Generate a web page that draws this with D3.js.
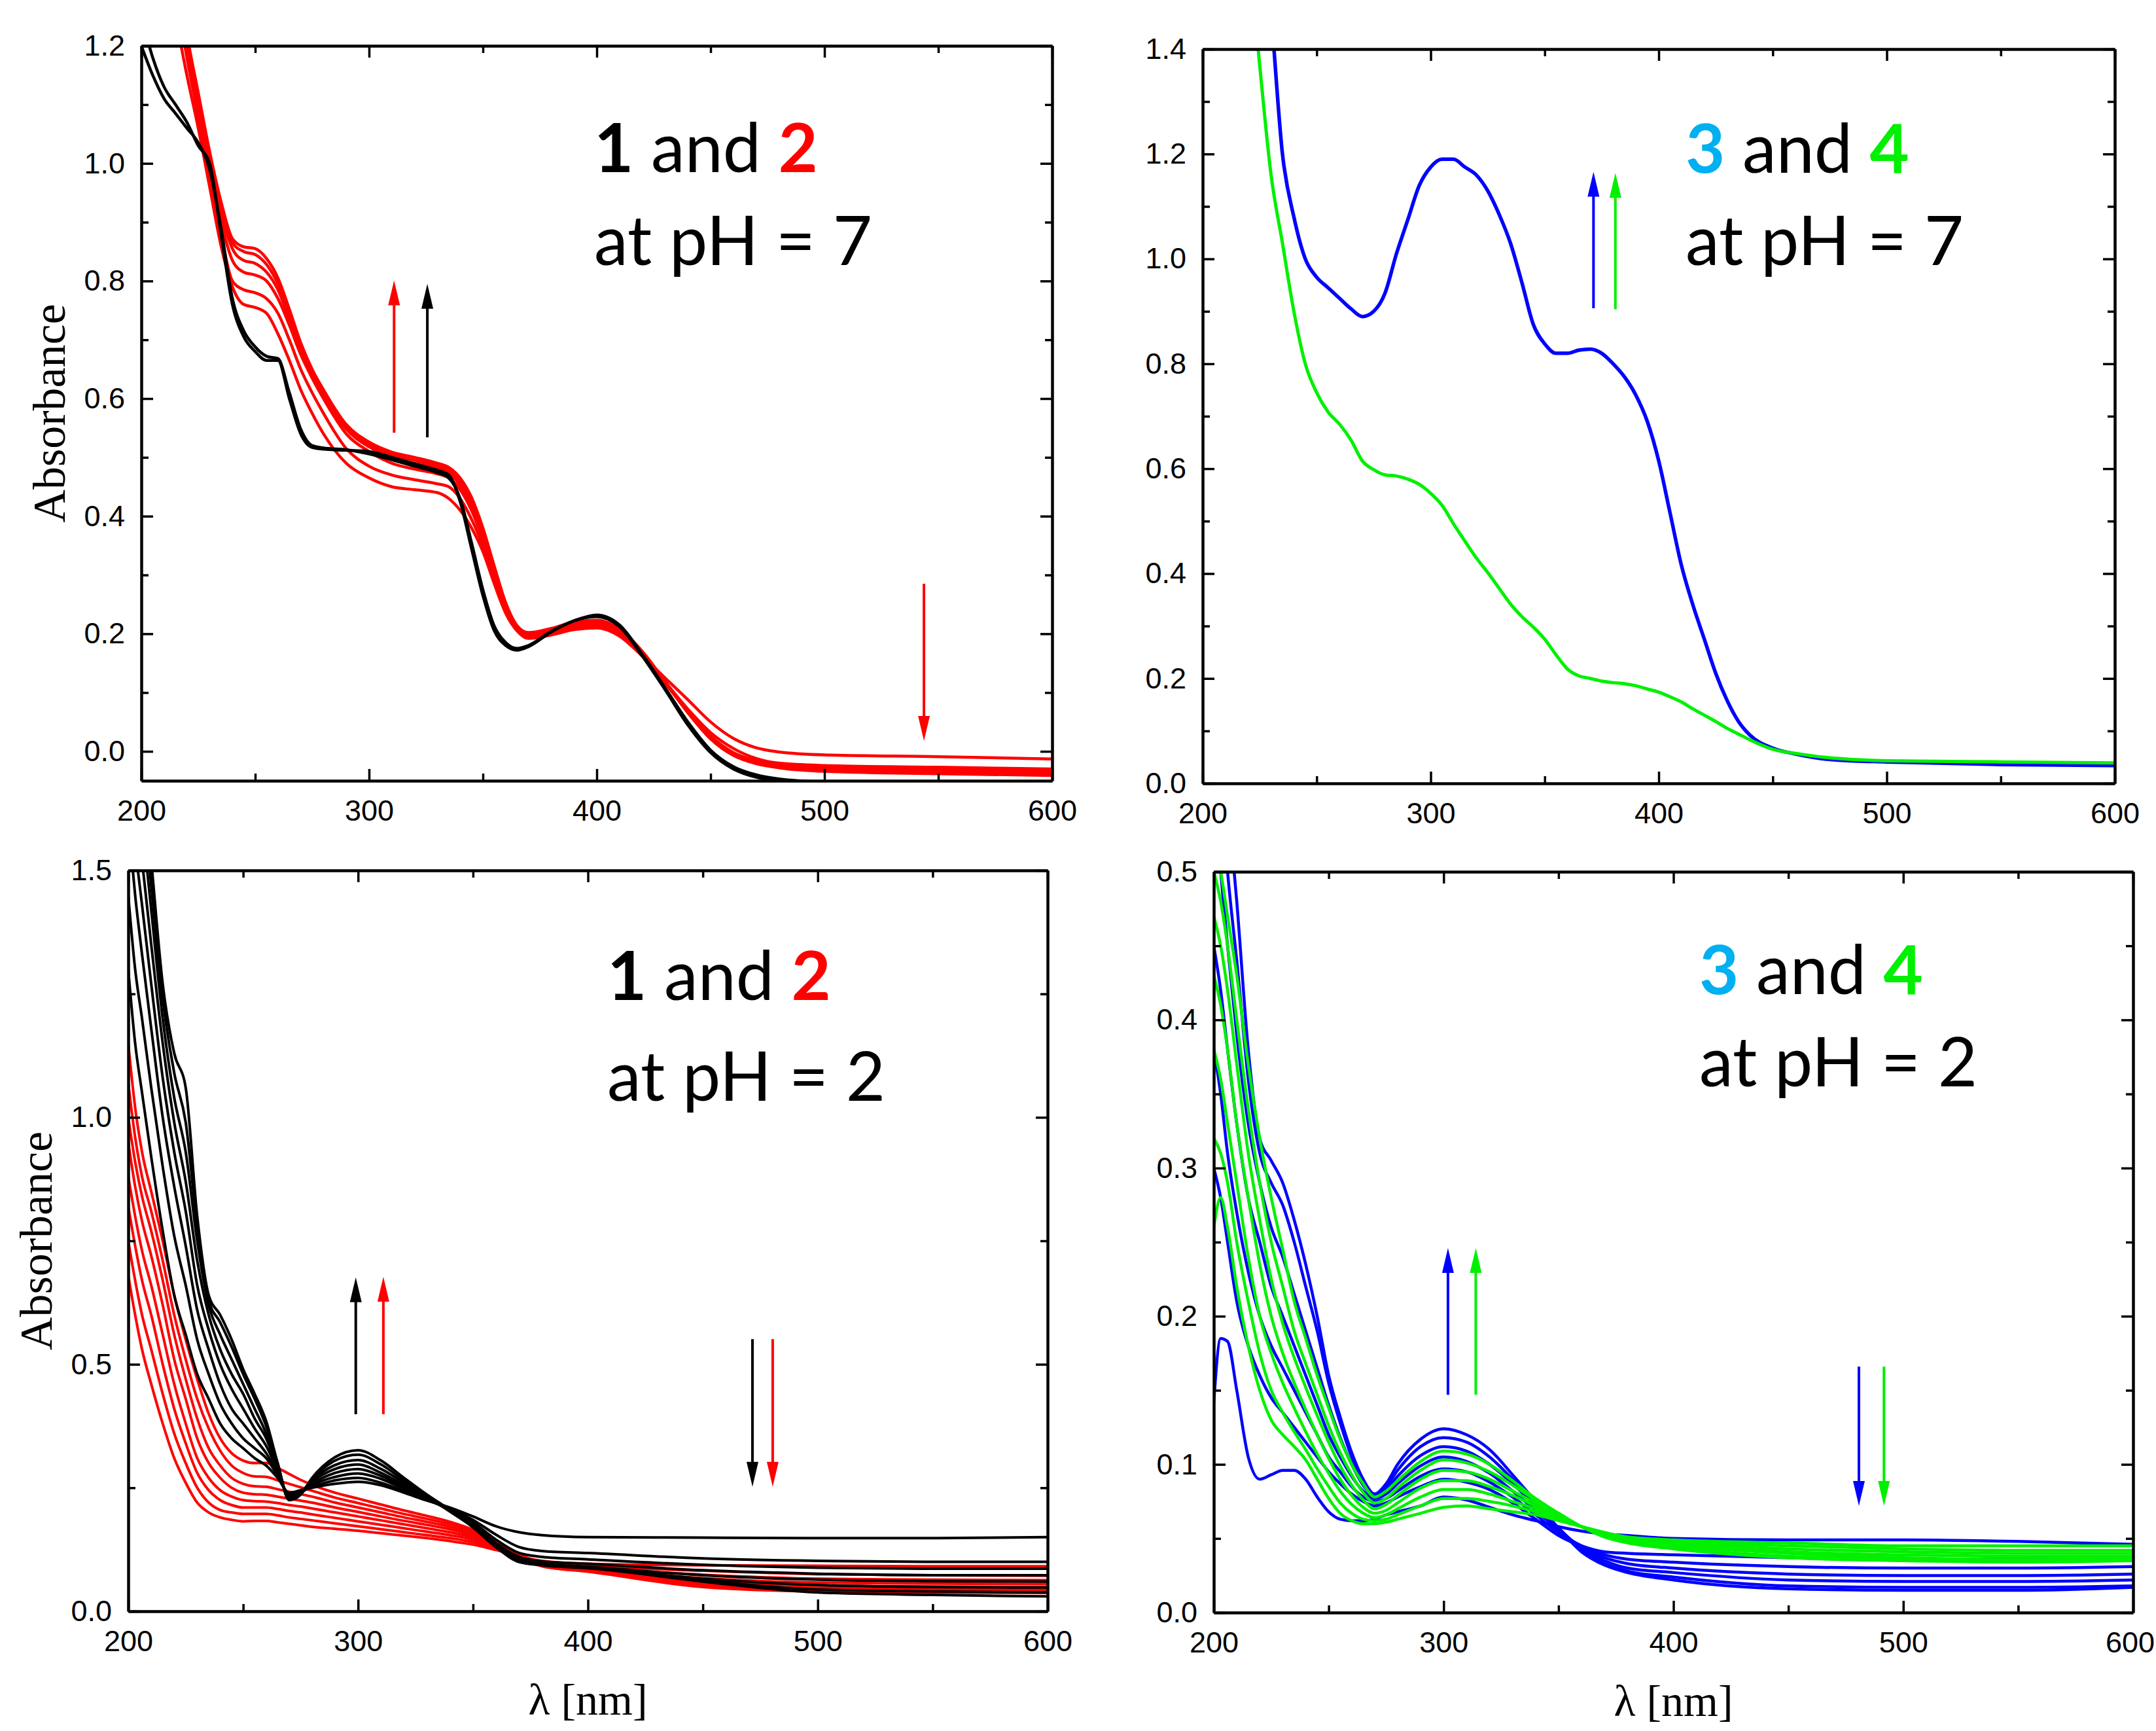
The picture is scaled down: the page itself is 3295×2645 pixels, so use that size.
<!DOCTYPE html>
<html>
<head>
<meta charset="utf-8">
<script src="https://cdn.jsdelivr.net/npm/d3@7"></script>
<style>
  body { margin: 0; background: #fff; }
</style>
</head>
<body>
<script>
// ---------- data ----------
const xMajor = [200, 300, 400, 500, 600];
const xMinor = [250, 350, 450, 550];

// top-left: 1 and 2 at pH = 7
const wlNeutral12 = [200,205,210,215,220,225,230,235,240,245,250,255,260,265,270,275,280,290,300,310,320,330,335,340,345,350,355,360,365,370,380,390,400,410,420,430,440,450,460,470,480,500,550,600];
const redNeutral = [
  [1.5,1.45,1.35,1.25,1.15,1.06,0.96,0.86,0.79,0.76,0.755,0.745,0.71,0.665,0.615,0.575,0.54,0.49,0.465,0.45,0.445,0.44,0.43,0.41,0.38,0.34,0.285,0.235,0.205,0.192,0.198,0.207,0.21,0.196,0.162,0.125,0.088,0.05,0.022,0.006,-0.001,-0.006,-0.009,-0.013],
  [1.55,1.5,1.4,1.3,1.18,1.08,0.98,0.88,0.8,0.785,0.78,0.77,0.745,0.7,0.65,0.61,0.575,0.515,0.485,0.47,0.462,0.455,0.45,0.43,0.395,0.35,0.295,0.245,0.21,0.195,0.2,0.21,0.212,0.2,0.163,0.118,0.072,0.032,0.005,-0.012,-0.02,-0.024,-0.027,-0.03],
  [1.6,1.55,1.45,1.32,1.19,1.09,0.99,0.9,0.835,0.815,0.81,0.8,0.77,0.725,0.675,0.635,0.6,0.54,0.51,0.49,0.48,0.472,0.465,0.445,0.41,0.36,0.3,0.245,0.208,0.196,0.204,0.214,0.216,0.202,0.164,0.116,0.068,0.026,-0.002,-0.016,-0.023,-0.027,-0.031,-0.034],
  [1.6,1.55,1.47,1.33,1.2,1.1,1.0,0.915,0.855,0.835,0.83,0.815,0.785,0.735,0.685,0.64,0.605,0.548,0.518,0.5,0.49,0.482,0.474,0.452,0.418,0.367,0.305,0.248,0.21,0.198,0.206,0.217,0.219,0.204,0.166,0.117,0.067,0.024,-0.004,-0.018,-0.025,-0.03,-0.034,-0.037],
  [1.6,1.55,1.47,1.34,1.21,1.11,1.01,0.925,0.865,0.85,0.845,0.828,0.795,0.745,0.69,0.645,0.61,0.552,0.522,0.505,0.495,0.486,0.478,0.458,0.425,0.373,0.31,0.25,0.212,0.2,0.207,0.219,0.221,0.206,0.168,0.118,0.066,0.022,-0.006,-0.02,-0.027,-0.032,-0.036,-0.039],
  [1.6,1.56,1.48,1.35,1.22,1.12,1.02,0.935,0.872,0.858,0.855,0.838,0.805,0.752,0.695,0.65,0.615,0.556,0.526,0.509,0.5,0.49,0.483,0.465,0.432,0.38,0.315,0.253,0.214,0.202,0.209,0.22,0.223,0.208,0.17,0.119,0.066,0.021,-0.007,-0.021,-0.028,-0.034,-0.038,-0.041]
];
const blackNeutral = [
  [1.25,1.18,1.13,1.10,1.07,1.03,1.00,0.88,0.76,0.705,0.68,0.665,0.665,0.60,0.54,0.517,0.514,0.512,0.51,0.50,0.489,0.478,0.47,0.425,0.345,0.265,0.205,0.18,0.172,0.178,0.203,0.222,0.229,0.212,0.162,0.105,0.045,-0.002,-0.03,-0.044,-0.05,-0.055,-0.058,-0.06],
  [1.2,1.15,1.11,1.085,1.06,1.035,0.99,0.89,0.77,0.715,0.688,0.672,0.668,0.61,0.548,0.52,0.516,0.513,0.506,0.496,0.485,0.474,0.465,0.43,0.355,0.275,0.213,0.185,0.175,0.18,0.204,0.222,0.232,0.215,0.165,0.108,0.05,0.002,-0.026,-0.04,-0.047,-0.052,-0.055,-0.057]
];

// top-right: 3 and 4 at pH = 7
const wlNeutral34 = [220,225,230,235,240,245,250,255,260,265,270,275,280,285,290,295,300,305,310,315,320,325,330,335,340,345,350,355,360,365,370,375,380,385,390,395,400,405,410,415,420,425,430,435,440,450,460,470,480,500,550,600];
const blueNeutral = [1.9,1.7,1.47,1.2,1.08,1.0,0.965,0.945,0.925,0.905,0.89,0.9,0.935,1.01,1.075,1.14,1.175,1.19,1.19,1.175,1.16,1.13,1.085,1.03,0.955,0.875,0.838,0.82,0.82,0.826,0.828,0.82,0.8,0.775,0.74,0.69,0.615,0.515,0.415,0.34,0.275,0.21,0.158,0.118,0.092,0.067,0.056,0.048,0.044,0.041,0.036,0.034];
const greenNeutral = [1.6,1.37,1.16,1.03,0.9,0.8,0.745,0.708,0.685,0.655,0.615,0.598,0.588,0.586,0.58,0.57,0.553,0.53,0.495,0.462,0.43,0.402,0.372,0.342,0.318,0.298,0.275,0.245,0.218,0.205,0.2,0.195,0.192,0.19,0.186,0.18,0.174,0.165,0.155,0.142,0.13,0.118,0.105,0.094,0.083,0.065,0.057,0.051,0.047,0.043,0.041,0.039];

// bottom panels: pH = 2, one row per wavelength, one column per spectrum
const wlAcid = [200,203,206,210,215,220,225,230,235,240,245,250,255,260,265,270,275,280,290,300,310,320,330,340,350,360,370,380,400,450,500,550,600];
const blackAcid = [
  [1.3,1.45,1.6,1.7,1.8,1.85,1.9,1.95],
  [1.15,1.3,1.45,1.55,1.65,1.72,1.78,1.85],
  [1.05,1.2,1.33,1.43,1.52,1.6,1.66,1.72],
  [0.92,1.06,1.18,1.27,1.35,1.42,1.47,1.52],
  [0.77,0.9,1.0,1.08,1.15,1.2,1.24,1.27],
  [0.64,0.76,0.86,0.93,0.99,1.04,1.09,1.13],
  [0.56,0.66,0.74,0.81,0.87,0.93,0.99,1.06],
  [0.48,0.55,0.61,0.66,0.71,0.75,0.78,0.8],
  [0.43,0.48,0.53,0.57,0.6,0.62,0.63,0.64],
  [0.38,0.42,0.46,0.5,0.53,0.56,0.585,0.6],
  [0.35,0.38,0.41,0.45,0.48,0.51,0.535,0.55],
  [0.33,0.35,0.38,0.41,0.44,0.46,0.48,0.49],
  [0.31,0.33,0.35,0.37,0.39,0.41,0.43,0.44],
  [0.295,0.31,0.32,0.335,0.35,0.36,0.375,0.385],
  [0.27,0.275,0.28,0.285,0.29,0.295,0.3,0.3],
  [0.24,0.238,0.235,0.232,0.23,0.228,0.226,0.225],
  [0.245,0.243,0.24,0.24,0.24,0.24,0.238,0.236],
  [0.25,0.252,0.255,0.258,0.262,0.265,0.268,0.27],
  [0.258,0.265,0.272,0.28,0.288,0.296,0.305,0.312],
  [0.262,0.27,0.279,0.288,0.297,0.306,0.317,0.326],
  [0.255,0.26,0.268,0.274,0.28,0.288,0.297,0.305],
  [0.24,0.243,0.247,0.251,0.255,0.26,0.265,0.27],
  [0.224,0.225,0.226,0.228,0.23,0.232,0.234,0.236],
  [0.21,0.208,0.206,0.204,0.203,0.202,0.202,0.205],
  [0.192,0.185,0.18,0.176,0.173,0.171,0.17,0.17],
  [0.172,0.155,0.145,0.138,0.133,0.13,0.13,0.13],
  [0.16,0.13,0.118,0.11,0.105,0.102,0.1,0.1],
  [0.154,0.122,0.11,0.101,0.096,0.094,0.093,0.094],
  [0.15,0.118,0.105,0.096,0.09,0.088,0.087,0.088],
  [0.149,0.107,0.094,0.083,0.073,0.066,0.062,0.06],
  [0.148,0.102,0.088,0.076,0.064,0.053,0.044,0.038],
  [0.148,0.1,0.086,0.073,0.061,0.049,0.04,0.033],
  [0.15,0.1,0.086,0.073,0.06,0.048,0.038,0.03]
];
const redAcid = [
  [0.68,0.75,0.82,0.88,0.95,1.0,1.07,1.15],
  [0.6,0.67,0.74,0.8,0.86,0.91,0.96,1.02],
  [0.53,0.6,0.67,0.73,0.79,0.84,0.88,0.93],
  [0.46,0.53,0.6,0.66,0.72,0.77,0.81,0.85],
  [0.38,0.44,0.5,0.56,0.62,0.67,0.71,0.75],
  [0.31,0.36,0.41,0.46,0.51,0.56,0.6,0.64],
  [0.26,0.3,0.34,0.38,0.43,0.47,0.51,0.55],
  [0.22,0.25,0.28,0.31,0.35,0.39,0.43,0.47],
  [0.2,0.22,0.245,0.27,0.3,0.33,0.37,0.4],
  [0.19,0.205,0.225,0.245,0.27,0.295,0.325,0.35],
  [0.185,0.2,0.215,0.232,0.25,0.27,0.295,0.32],
  [0.182,0.197,0.21,0.225,0.24,0.258,0.28,0.305],
  [0.183,0.197,0.21,0.223,0.237,0.253,0.273,0.3],
  [0.183,0.197,0.21,0.222,0.236,0.252,0.272,0.3],
  [0.18,0.194,0.207,0.219,0.232,0.247,0.265,0.29],
  [0.177,0.19,0.203,0.215,0.228,0.242,0.258,0.278],
  [0.174,0.187,0.2,0.212,0.224,0.237,0.251,0.266],
  [0.171,0.184,0.196,0.208,0.22,0.232,0.244,0.256],
  [0.167,0.178,0.189,0.2,0.21,0.22,0.23,0.24],
  [0.163,0.172,0.182,0.192,0.201,0.21,0.219,0.228],
  [0.158,0.166,0.175,0.184,0.192,0.2,0.208,0.216],
  [0.153,0.16,0.168,0.176,0.183,0.19,0.197,0.204],
  [0.148,0.154,0.161,0.168,0.175,0.181,0.187,0.193],
  [0.142,0.148,0.154,0.16,0.166,0.171,0.176,0.181],
  [0.135,0.14,0.145,0.15,0.154,0.158,0.162,0.165],
  [0.124,0.127,0.13,0.132,0.134,0.136,0.138,0.14],
  [0.112,0.113,0.113,0.113,0.112,0.111,0.11,0.11],
  [0.102,0.1,0.098,0.096,0.094,0.093,0.092,0.091],
  [0.096,0.092,0.088,0.085,0.083,0.082,0.081,0.08],
  [0.093,0.082,0.074,0.067,0.061,0.056,0.052,0.049],
  [0.092,0.075,0.066,0.058,0.052,0.047,0.043,0.04],
  [0.091,0.073,0.064,0.056,0.05,0.045,0.041,0.038],
  [0.091,0.072,0.063,0.055,0.049,0.044,0.04,0.037]
];
const blueAcid = [
  [0.142,0.3,0.38,0.45,0.55,0.6,0.65],
  [0.185,0.28,0.35,0.42,0.5,0.56,0.6],
  [0.183,0.25,0.31,0.38,0.45,0.5,0.55],
  [0.15,0.21,0.27,0.33,0.39,0.44,0.48],
  [0.105,0.18,0.23,0.28,0.33,0.36,0.38],
  [0.09,0.16,0.2,0.25,0.29,0.31,0.32],
  [0.093,0.145,0.18,0.22,0.26,0.29,0.305],
  [0.096,0.135,0.165,0.2,0.24,0.275,0.29],
  [0.096,0.125,0.15,0.18,0.215,0.25,0.265],
  [0.09,0.115,0.135,0.16,0.19,0.22,0.235],
  [0.078,0.105,0.12,0.14,0.165,0.19,0.2],
  [0.068,0.095,0.105,0.12,0.14,0.155,0.16],
  [0.063,0.087,0.095,0.105,0.118,0.128,0.132],
  [0.062,0.08,0.085,0.092,0.1,0.105,0.108],
  [0.062,0.075,0.078,0.082,0.086,0.088,0.09],
  [0.063,0.072,0.075,0.077,0.079,0.08,0.08],
  [0.066,0.074,0.077,0.08,0.083,0.085,0.087],
  [0.068,0.078,0.082,0.087,0.092,0.096,0.1],
  [0.072,0.085,0.092,0.099,0.106,0.112,0.117],
  [0.078,0.09,0.097,0.105,0.112,0.118,0.124],
  [0.076,0.088,0.095,0.102,0.109,0.115,0.12],
  [0.071,0.083,0.088,0.094,0.1,0.105,0.11],
  [0.066,0.074,0.078,0.082,0.087,0.09,0.093],
  [0.062,0.063,0.066,0.069,0.072,0.074,0.075],
  [0.058,0.052,0.054,0.056,0.057,0.057,0.057],
  [0.055,0.045,0.045,0.044,0.043,0.042,0.041],
  [0.053,0.041,0.039,0.037,0.035,0.033,0.032],
  [0.052,0.04,0.036,0.033,0.03,0.028,0.027],
  [0.05,0.039,0.034,0.03,0.027,0.024,0.022],
  [0.049,0.037,0.031,0.026,0.022,0.018,0.016],
  [0.049,0.036,0.03,0.025,0.021,0.017,0.015],
  [0.048,0.036,0.03,0.025,0.021,0.017,0.015],
  [0.046,0.037,0.031,0.026,0.022,0.018,0.017]
];
const greenAcid = [
  [0.26,0.32,0.38,0.43,0.47,0.5,0.52],
  [0.28,0.31,0.36,0.41,0.45,0.48,0.5],
  [0.26,0.29,0.33,0.38,0.42,0.45,0.47],
  [0.22,0.25,0.29,0.33,0.37,0.4,0.43],
  [0.18,0.21,0.24,0.28,0.31,0.34,0.37],
  [0.15,0.175,0.2,0.235,0.265,0.29,0.32],
  [0.13,0.15,0.175,0.2,0.225,0.25,0.28],
  [0.12,0.135,0.155,0.175,0.195,0.22,0.245],
  [0.112,0.122,0.138,0.155,0.172,0.19,0.21],
  [0.103,0.11,0.122,0.137,0.152,0.168,0.185],
  [0.09,0.097,0.107,0.12,0.133,0.147,0.16],
  [0.077,0.085,0.094,0.104,0.115,0.126,0.138],
  [0.067,0.074,0.082,0.09,0.099,0.108,0.117],
  [0.062,0.067,0.073,0.079,0.086,0.093,0.1],
  [0.06,0.063,0.067,0.071,0.076,0.081,0.087],
  [0.06,0.062,0.064,0.067,0.07,0.074,0.078],
  [0.061,0.063,0.066,0.069,0.073,0.077,0.082],
  [0.063,0.066,0.07,0.074,0.079,0.084,0.089],
  [0.067,0.072,0.078,0.084,0.09,0.096,0.102],
  [0.071,0.077,0.083,0.089,0.096,0.103,0.109],
  [0.072,0.077,0.083,0.089,0.095,0.101,0.107],
  [0.07,0.075,0.08,0.085,0.09,0.095,0.1],
  [0.068,0.072,0.075,0.079,0.082,0.086,0.089],
  [0.066,0.068,0.07,0.072,0.074,0.076,0.077],
  [0.062,0.063,0.064,0.065,0.066,0.067,0.067],
  [0.058,0.058,0.058,0.058,0.058,0.058,0.058],
  [0.054,0.054,0.053,0.053,0.052,0.052,0.051],
  [0.051,0.05,0.05,0.049,0.048,0.048,0.047],
  [0.049,0.048,0.047,0.046,0.045,0.044,0.043],
  [0.047,0.045,0.043,0.041,0.04,0.038,0.037],
  [0.045,0.043,0.041,0.039,0.037,0.036,0.035],
  [0.045,0.042,0.04,0.038,0.036,0.035,0.034],
  [0.045,0.042,0.04,0.038,0.037,0.036,0.035]
];

// arrows: [wavelength, tail value, tip value]
const arrowsNeutral12 = [[311, 0.542, 0.801], [325.6, 0.534, 0.795], [543.7, 0.285, 0.018]];
const arrowsNeutral34 = [[371.4, 0.906, 1.166], [381, 0.904, 1.164]];
const arrowsAcid12 = [[299, 0.399, 0.676], [311, 0.399, 0.677], [471.6, 0.551, 0.252], [480.4, 0.551, 0.252]];
const arrowsAcid34 = [[301.9, 0.147, 0.246], [314, 0.147, 0.246], [480.7, 0.166, 0.072], [491.6, 0.166, 0.072]];

// ---------- drawing ----------
const RED = "#ff0000", BLACK = "#000000", BLUE = "#0000ff", GREEN = "#00f000", SKY = "#00b0f0";
const tickFont = "'Liberation Sans', Arial, sans-serif";
const serifFont = "'Liberation Serif', 'Times New Roman', serif";
const noteFont = "Lato, 'Open Sans', sans-serif";
const pageWidth = 3295;

const svg = d3.select("body").append("svg")
  .attr("width", pageWidth)
  .attr("height", 2645)
  .style("display", "block")
  .style("background", "#fff");

function columns(rows) {
  return rows[0].map((_, k) => rows.map(r => r[k]));
}

function drawPanel(p) {
  const x = d3.scaleLinear().domain([200, 600]).range([p.left, p.right]);
  const y = d3.scaleLinear().domain(p.yDomain).range([p.bottom, p.top]);

  svg.append("clipPath").attr("id", "clip-" + p.id)
    .append("rect")
    .attr("x", p.left).attr("y", p.top)
    .attr("width", p.right - p.left).attr("height", p.bottom - p.top);

  const line = d3.line()
    .x(d => x(d[0]))
    .y(d => y(d[1]))
    .curve(d3.curveMonotoneX);

  const curves = svg.append("g").attr("clip-path", "url(#clip-" + p.id + ")");
  p.groups.forEach(grp => {
    curves.selectAll(null)
      .data(grp.series)
      .enter()
      .append("path")
      .attr("d", s => line(grp.wl.map((w, i) => [w, s[i]])))
      .attr("fill", "none")
      .attr("stroke", grp.color)
      .attr("stroke-width", grp.width)
      .attr("stroke-linejoin", "round");
  });

  // arrows
  const arrows = svg.append("g");
  p.arrows.forEach((a, i) => {
    const ax = x(a[0]), y0 = y(a[1]), y1 = y(a[2]);
    const dir = y1 < y0 ? 1 : -1;
    const headLen = 38, headHalf = 9;
    arrows.append("line")
      .attr("x1", ax).attr("x2", ax)
      .attr("y1", y0).attr("y2", y1 + dir * (headLen - 4))
      .attr("stroke", p.arrowColors[i])
      .attr("stroke-width", 4);
    arrows.append("path")
      .attr("d", `M${ax},${y1} L${ax - headHalf},${y1 + dir * headLen} L${ax + headHalf},${y1 + dir * headLen} Z`)
      .attr("fill", p.arrowColors[i]);
  });

  // frame with inward ticks on all four sides
  const axes = svg.append("g");
  const fmtY = d3.format(".1f");
  const add = (axis, tx, ty) => axes.append("g").attr("transform", `translate(${tx},${ty})`).call(axis);

  const bottomAxis = add(d3.axisBottom(x).tickValues(xMajor).tickSizeInner(-18).tickSizeOuter(0).tickPadding(29).tickFormat(d3.format("d")), 0, p.bottom);
  add(d3.axisBottom(x).tickValues(xMinor).tickSizeInner(-11).tickSizeOuter(0).tickFormat(""), 0, p.bottom);
  add(d3.axisTop(x).tickValues(xMajor).tickSizeInner(-18).tickSizeOuter(0).tickFormat(""), 0, p.top);
  add(d3.axisTop(x).tickValues(xMinor).tickSizeInner(-11).tickSizeOuter(0).tickFormat(""), 0, p.top);
  add(d3.axisLeft(y).tickValues(p.yMajor).tickSizeInner(-18).tickSizeOuter(0).tickPadding(25).tickFormat(fmtY), p.left, 0);
  add(d3.axisLeft(y).tickValues(p.yMinor).tickSizeInner(-11).tickSizeOuter(0).tickFormat(""), p.left, 0);
  add(d3.axisRight(y).tickValues(p.yMajor).tickSizeInner(-18).tickSizeOuter(0).tickFormat(""), p.right, 0);
  add(d3.axisRight(y).tickValues(p.yMinor).tickSizeInner(-11).tickSizeOuter(0).tickFormat(""), p.right, 0);

  axes.selectAll(".domain").attr("stroke", "#000").attr("stroke-width", 4);
  axes.selectAll(".tick line").attr("stroke", "#000").attr("stroke-width", 3.5);
  axes.selectAll(".tick text")
    .attr("font-family", tickFont)
    .attr("font-size", 45)
    .attr("fill", "#000");

  // keep the last x label inside the page when the frame reaches the edge
  bottomAxis.selectAll(".tick text").each(function () {
    const b = this.getBBox();
    const gx = this.parentNode.transform.baseVal.consolidate().matrix.e;
    const overflow = gx + b.x + b.width - (pageWidth - 2);
    if (overflow > 0) d3.select(this).attr("dx", -overflow);
  });

  // annotation
  const note = svg.append("text")
    .attr("font-family", noteFont)
    .attr("font-size", 104)
    .attr("fill", "#000");
  const l1 = note.append("tspan").attr("x", p.left + p.noteX).attr("y", p.top + p.noteY1);
  l1.append("tspan").attr("font-weight", 700).attr("fill", p.numColors[0]).text(p.nums[0]);
  l1.append("tspan").text(" and ");
  l1.append("tspan").attr("font-weight", 700).attr("fill", p.numColors[1]).text(p.nums[1]);
  note.append("tspan").attr("x", p.left + p.noteX).attr("y", p.top + p.noteY2).text(p.phText);

  if (p.yLabelX) {
    svg.append("text")
      .attr("transform", `translate(${p.yLabelX},${(p.top + p.bottom) / 2}) rotate(-90)`)
      .attr("text-anchor", "middle")
      .attr("font-family", serifFont)
      .attr("font-size", 70)
      .text("Absorbance");
  }
  if (p.xLabelY) {
    svg.append("text")
      .attr("x", (p.left + p.right) / 2)
      .attr("y", p.xLabelY)
      .attr("text-anchor", "middle")
      .attr("font-family", serifFont)
      .attr("font-size", 68)
      .text("λ [nm]");
  }
}

drawPanel({
  id: "a", left: 216, right: 1608, top: 70, bottom: 1193,
  yDomain: [-0.05, 1.2],
  yMajor: [0, 0.2, 0.4, 0.6, 0.8, 1.0, 1.2],
  yMinor: [0.1, 0.3, 0.5, 0.7, 0.9, 1.1],
  groups: [
    { wl: wlNeutral12, series: redNeutral, color: RED, width: 4.5 },
    { wl: wlNeutral12, series: blackNeutral, color: BLACK, width: 4.5 }
  ],
  arrows: arrowsNeutral12, arrowColors: [RED, BLACK, RED],
  nums: ["1", "2"], numColors: [BLACK, RED], phText: "at pH = 7",
  noteX: 692, noteY1: 193, noteY2: 335,
  yLabelX: 99
});

drawPanel({
  id: "b", left: 1838, right: 3232, top: 75, bottom: 1197,
  yDomain: [0, 1.4],
  yMajor: [0, 0.2, 0.4, 0.6, 0.8, 1.0, 1.2, 1.4],
  yMinor: [0.1, 0.3, 0.5, 0.7, 0.9, 1.1, 1.3],
  groups: [
    { wl: wlNeutral34, series: [blueNeutral], color: BLUE, width: 5.5 },
    { wl: wlNeutral34, series: [greenNeutral], color: GREEN, width: 5 }
  ],
  arrows: arrowsNeutral34, arrowColors: [BLUE, GREEN],
  nums: ["3", "4"], numColors: [SKY, GREEN], phText: "at pH = 7",
  noteX: 738, noteY1: 189, noteY2: 330
});

drawPanel({
  id: "c", left: 196, right: 1601, top: 1330, bottom: 2462,
  yDomain: [0, 1.5],
  yMajor: [0, 0.5, 1.0, 1.5],
  yMinor: [0.25, 0.75, 1.25],
  groups: [
    { wl: wlAcid, series: columns(redAcid), color: RED, width: 4 },
    { wl: wlAcid, series: columns(blackAcid), color: BLACK, width: 4 }
  ],
  arrows: arrowsAcid12, arrowColors: [BLACK, RED, BLACK, RED],
  nums: ["1", "2"], numColors: [BLACK, RED], phText: "at pH = 2",
  noteX: 732, noteY1: 198, noteY2: 352,
  yLabelX: 79, xLabelY: 2620
});

drawPanel({
  id: "d", left: 1855, right: 3260, top: 1332, bottom: 2464,
  yDomain: [0, 0.5],
  yMajor: [0, 0.1, 0.2, 0.3, 0.4, 0.5],
  yMinor: [0.05, 0.15, 0.25, 0.35, 0.45],
  groups: [
    { wl: wlAcid, series: columns(blueAcid), color: BLUE, width: 4.5 },
    { wl: wlAcid, series: columns(greenAcid), color: GREEN, width: 4.5 }
  ],
  arrows: arrowsAcid34, arrowColors: [BLUE, GREEN, BLUE, GREEN],
  nums: ["3", "4"], numColors: [SKY, GREEN], phText: "at pH = 2",
  noteX: 742, noteY1: 187, noteY2: 328,
  xLabelY: 2622
});
</script>
</body>
</html>
